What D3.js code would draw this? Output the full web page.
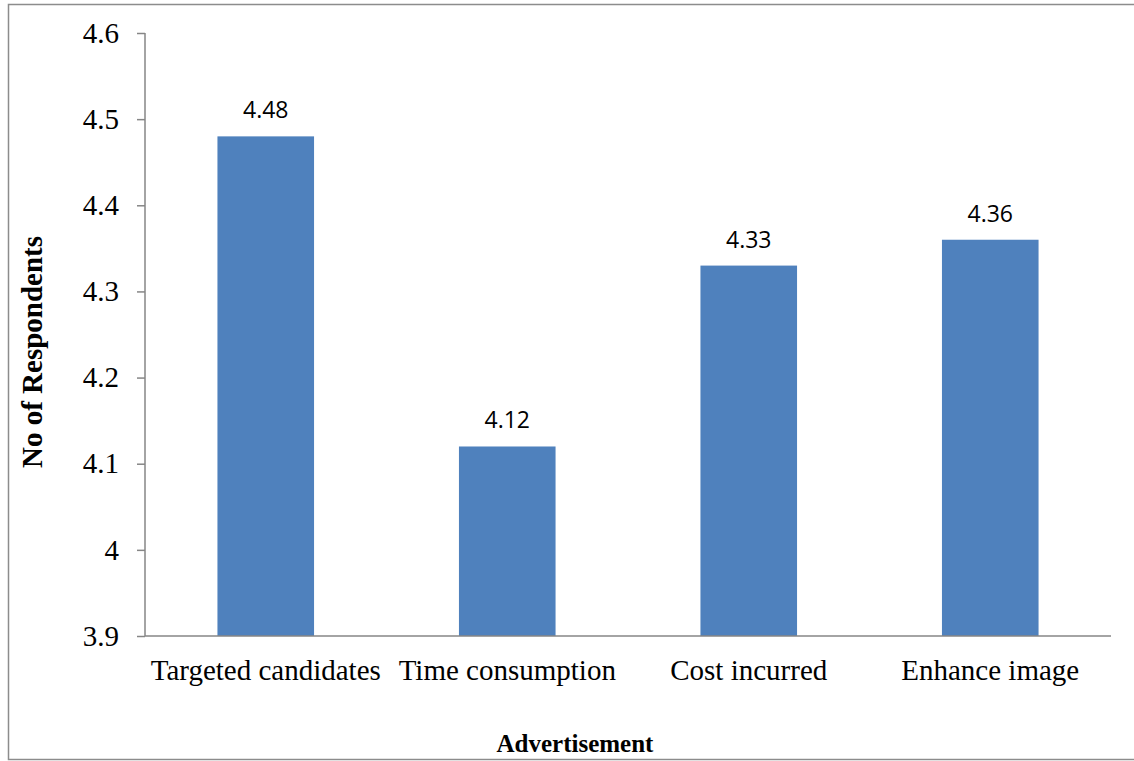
<!DOCTYPE html>
<html>
<head>
<meta charset="utf-8">
<script src="https://cdn.jsdelivr.net/npm/d3@7"></script>
<style>
  html, body { margin: 0; padding: 0; background: #fff; }
  svg { display: block; }
</style>
</head>
<body>
<svg id="chart" width="1134" height="761"></svg>
<script>
// Mean scores per advertisement factor
const categories = ["Targeted candidates", "Time consumption", "Cost incurred", "Enhance image"];
const values = [4.48, 4.12, 4.33, 4.36];
const yTicks = [3.9, 4.0, 4.1, 4.2, 4.3, 4.4, 4.5, 4.6];
const yTickLabels = ["3.9", "4", "4.1", "4.2", "4.3", "4.4", "4.5", "4.6"];

const svg = d3.select("#chart");
const margin = { left: 145, right: 23, top: 33, bottom: 125 };
const W = 1134, H = 761;
const plotW = W - margin.left - margin.right;
const plotH = H - margin.top - margin.bottom;

// outer frame
svg.append("rect")
  .attr("x", 8.5).attr("y", 4.5)
  .attr("width", 1140).attr("height", 755)
  .attr("fill", "none").attr("stroke", "#8c8c8c").attr("stroke-width", 1.5);

const g = svg.append("g").attr("transform", `translate(${margin.left},${margin.top})`);

const x = d3.scaleBand().domain(categories).range([0, plotW]).padding(0);
const y = d3.scaleLinear().domain([3.9, 4.6]).range([plotH, 0]);

const barW = x.bandwidth() * 0.4;

g.selectAll("rect.bar")
  .data(values)
  .enter().append("rect")
  .attr("class", "bar")
  .attr("x", (d, i) => x(categories[i]) + (x.bandwidth() - barW) / 2)
  .attr("y", d => y(d))
  .attr("width", barW)
  .attr("height", d => y(3.9) - y(d))
  .attr("fill", "#4F81BD");

// value labels
g.selectAll("text.val")
  .data(values)
  .enter().append("text")
  .attr("class", "val")
  .attr("x", (d, i) => x(categories[i]) + x.bandwidth() / 2)
  .attr("y", d => y(d) - 18)
  .attr("text-anchor", "middle")
  .attr("font-family", "'Open Sans', 'Liberation Sans', sans-serif")
  .attr("font-size", 23)
  .attr("fill", "#000")
  .text(d => d.toFixed(2));

// y axis
const yAxis = d3.axisLeft(y)
  .tickValues(yTicks)
  .tickFormat((d, i) => yTickLabels[i])
  .tickSize(8)
  .tickPadding(18);
const ya = g.append("g").call(yAxis);
ya.select(".domain").attr("stroke", "#868686").attr("stroke-width", 1.5).attr("d", `M0,${plotH}V0`);
ya.selectAll(".tick line").attr("stroke", "#868686").attr("stroke-width", 1.5);
ya.selectAll(".tick text")
  .attr("font-family", "'Liberation Serif', 'Times New Roman', serif")
  .attr("font-size", 29)
  .attr("fill", "#000");

// x axis
const xAxis = d3.axisBottom(x).tickSize(0).tickPadding(23);
const xa = g.append("g").attr("transform", `translate(0,${plotH})`).call(xAxis);
xa.select(".domain").attr("stroke", "#868686").attr("stroke-width", 1.5).attr("d", `M0,0H${plotW}`);
xa.selectAll(".tick text")
  .attr("font-family", "'Liberation Serif', 'Times New Roman', serif")
  .attr("font-size", 29)
  .attr("fill", "#000");

// axis titles
svg.append("text")
  .attr("x", 575).attr("y", 752)
  .attr("text-anchor", "middle")
  .attr("font-family", "'Liberation Serif', 'Times New Roman', serif")
  .attr("font-weight", "bold")
  .attr("font-size", 25)
  .text("Advertisement");

svg.append("text")
  .attr("transform", "translate(42,352) rotate(-90)")
  .attr("text-anchor", "middle")
  .attr("font-family", "'Liberation Serif', 'Times New Roman', serif")
  .attr("font-weight", "bold")
  .attr("font-size", 29)
  .text("No of Respondents");
</script>
</body>
</html>
